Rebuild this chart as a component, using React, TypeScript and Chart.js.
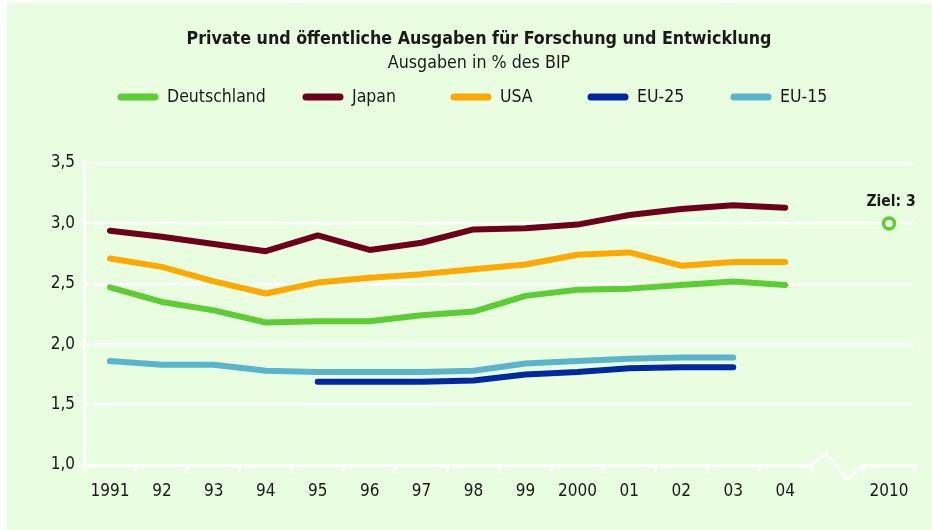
import React, { useEffect, useRef } from "react";
import { Chart, registerables } from "chart.js";

Chart.register(...registerables);

const categories = ["1991", "92", "93", "94", "95", "96", "97", "98", "99", "2000", "01", "02", "03", "04", "", "2010"];
const deutschland = [2.47, 2.35, 2.28, 2.18, 2.19, 2.19, 2.24, 2.27, 2.40, 2.45, 2.46, 2.49, 2.52, 2.49, null, null];
const japan = [2.94, 2.89, 2.83, 2.77, 2.90, 2.78, 2.84, 2.95, 2.96, 2.99, 3.07, 3.12, 3.15, 3.13, null, null];
const usa = [2.71, 2.64, 2.52, 2.42, 2.51, 2.55, 2.58, 2.62, 2.66, 2.74, 2.76, 2.65, 2.68, 2.68, null, null];
const eu25 = [null, null, null, null, 1.69, 1.69, 1.69, 1.70, 1.75, 1.77, 1.80, 1.81, 1.81, null, null, null];
const eu15 = [1.86, 1.83, 1.83, 1.78, 1.77, 1.77, 1.77, 1.78, 1.84, 1.86, 1.88, 1.89, 1.89, null, null, null];
const ziel = [null, null, null, null, null, null, null, null, null, null, null, null, null, null, null, 3.0];
const zielLabel = "Ziel: 3";
const yTicks = [1.0, 1.5, 2.0, 2.5, 3.0, 3.5];

const titleText = "Private und öffentliche Ausgaben für Forschung und Entwicklung";
const subtitleText = "Ausgaben in % des BIP";

const BG = "#e9fde0";
const FONT = "'DejaVu Sans Condensed', 'DejaVu Sans', sans-serif";
const TEXT = "#1a1a1a";

const series = [
  { label: "Deutschland", data: deutschland, color: "#5ccd32" },
  { label: "Japan", data: japan, color: "#6e0019" },
  { label: "USA", data: usa, color: "#ffa800" },
  { label: "EU-25", data: eu25, color: "#0028a0" },
  { label: "EU-15", data: eu15, color: "#5ab4cc" },
];

// legend layout (canvas x positions of sample start)
const legendX = [111, 296, 444, 581, 724];
const legendSampleW = 40;
const legendY = 94;

export default function App() {
  const ref = useRef<HTMLCanvasElement | null>(null);

  useEffect(() => {
    document.body.style.margin = "0";
    document.body.style.background = BG;
    document.documentElement.style.background = BG;
    const canvas = ref.current;
    if (!canvas) return;

    const overlay = {
      id: "overlay",
      afterDraw(chart: any) {
        const ctx = chart.ctx;
        ctx.save();
        // title
        ctx.fillStyle = TEXT;
        ctx.textAlign = "center";
        ctx.textBaseline = "middle";
        ctx.font = `bold 17.7px ${FONT}`;
        ctx.fillText(titleText, 472, 36);
        ctx.font = `17.7px ${FONT}`;
        ctx.fillText(subtitleText, 472, 60);
        // legend
        ctx.textAlign = "left";
        ctx.font = `17.5px ${FONT}`;
        series.forEach((s, i) => {
          const x = legendX[i];
          ctx.strokeStyle = s.color;
          ctx.lineWidth = 7;
          ctx.lineCap = "round";
          ctx.beginPath();
          ctx.moveTo(x + 3, legendY);
          ctx.lineTo(x + legendSampleW - 3, legendY);
          ctx.stroke();
          ctx.fillStyle = TEXT;
          ctx.fillText(s.label, x + legendSampleW + 9, legendY);
        });
        // axis break zigzag
        const xs = chart.scales.x;
        const ys = chart.scales.y;
        const step = xs.getPixelForValue(1) - xs.getPixelForValue(0);
        const x0 = xs.getPixelForValue(14) - step / 2;
        const x1 = xs.getPixelForValue(14) + step / 2;
        const yb = ys.getPixelForValue(1.0);
        ctx.strokeStyle = BG;
        ctx.lineWidth = 5;
        ctx.lineCap = "butt";
        ctx.beginPath();
        ctx.moveTo(x0 + 2, yb);
        ctx.lineTo(x1 - 2, yb);
        ctx.stroke();
        ctx.strokeStyle = "#ffffff";
        ctx.lineWidth = 3;
        ctx.lineJoin = "miter";
        ctx.beginPath();
        ctx.moveTo(x0, yb);
        ctx.lineTo(x0 + step * 0.28, yb - 11);
        ctx.lineTo(x0 + step * 0.7, yb + 14);
        ctx.lineTo(x1, yb);
        ctx.stroke();
        // Ziel label
        const meta = chart.getDatasetMeta(5);
        const pt = meta.data[15];
        if (pt) {
          ctx.fillStyle = TEXT;
          ctx.font = `bold 15.5px ${FONT}`;
          ctx.textAlign = "center";
          ctx.fillText(zielLabel, pt.x + 2, pt.y - 21);
        }
        ctx.restore();
      },
    };

    const chart = new Chart(canvas, {
      type: "line",
      data: {
        labels: categories,
        datasets: [
          ...series.map((s) => ({
            label: s.label,
            data: s.data,
            borderColor: s.color,
            backgroundColor: s.color,
            borderWidth: 6,
            borderCapStyle: "round" as const,
            borderJoinStyle: "round" as const,
            pointRadius: 0,
            tension: 0,
            spanGaps: false,
          })),
          {
            label: "Ziel",
            data: ziel,
            borderColor: "#5ccd32",
            backgroundColor: BG,
            borderWidth: 3,
            pointRadius: 5.5,
            pointBorderWidth: 3.5,
            showLine: false,
          },
        ],
      },
      options: {
        responsive: false,
        animation: false,
        layout: { padding: { top: 160, right: 17, left: 0, bottom: 0 } },
        plugins: {
          legend: { display: false },
          title: { display: false },
          tooltip: { enabled: false },
        },
        scales: {
          x: {
            offset: true,
            grid: {
              offset: true,
              drawOnChartArea: false,
              drawTicks: true,
              tickLength: 8,
              color: "#ffffff",
              lineWidth: 3,
            },
            border: { display: true, color: "#ffffff", width: 3 },
            ticks: {
              color: TEXT,
              font: { family: FONT, size: 17 },
              padding: 8,
              maxRotation: 0,
              autoSkip: false,
            },
            afterFit(scale: any) {
              scale.height = 65;
            },
          },
          y: {
            min: 1,
            max: 3.5,
            afterBuildTicks(scale: any) {
              scale.ticks = yTicks.map((v) => ({ value: v }));
            },
            grid: {
              drawTicks: false,
              color: "#ffffff",
              lineWidth: 2.5,
            },
            border: { display: true, color: "#ffffff", width: 3 },
            ticks: {
              color: TEXT,
              font: { family: FONT, size: 17 },
              padding: 9,
              callback: (v: any) => Number(v).toFixed(1).replace(".", ","),
            },
            afterFit(scale: any) {
              scale.width = 77;
            },
          },
        },
      },
      plugins: [overlay],
    });
    return () => chart.destroy();
  }, []);

  return (
    <div style={{ position: "relative", width: 932, height: 530, background: BG, overflow: "hidden" }}>
      <div style={{ position: "absolute", left: 0, top: 0, width: 932, height: 3, background: "#ffffff" }} />
      <div style={{ position: "absolute", left: 0, top: 0, width: 7, height: 530, background: "#ffffff" }} />
      <div style={{ position: "absolute", left: 7, top: 3, width: 925, height: 527, background: BG }}>
        <canvas ref={ref} width={925} height={527} style={{ display: "block" }} />
      </div>
    </div>
  );
}
